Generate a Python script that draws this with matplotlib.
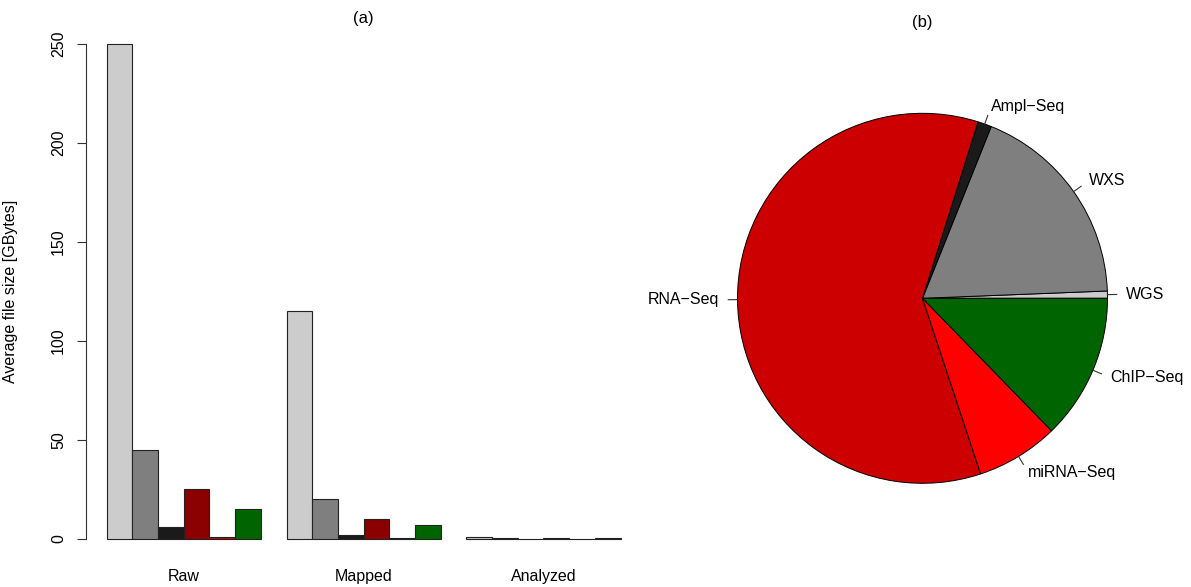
import matplotlib
matplotlib.use("Agg")
import matplotlib.pyplot as plt
import numpy as np

plt.rcParams['font.family'] = ['Liberation Sans', 'DejaVu Sans']
plt.rcParams['font.size'] = 11.5

# data
stages = ["Raw", "Mapped", "Analyzed"]
assays = ["WGS", "WXS", "Ampl\u2212Seq", "RNA\u2212Seq", "miRNA\u2212Seq", "ChIP\u2212Seq"]
raw_gb = [250, 45, 6, 25, 0.9, 15]
mapped_gb = [115, 20, 2, 10, 0.6, 7]
analyzed_gb = [0.9, 0.3, 0.05, 0.3, 0.05, 0.3]
bar_colors = ["#CCCCCC", "#7F7F7F", "#1A1A1A", "#8B0000", "#CC0000", "#006400"]

share_pct = [0.63, 18.3, 1.2, 59.9, 7.2, 12.7]
pie_colors = ["#CCCCCC", "#7F7F7F", "#1A1A1A", "#CC0000", "#FF0000", "#006400"]

W, H = 1191, 587
fig = plt.figure(figsize=(W / 100, H / 100), dpi=100)

# ---- (a) bar chart, R barplot(beside=TRUE) style ----
ax = fig.add_axes([86.1 / W, (H - 558.8) / H, 555 / W, 534.9 / H])
groups = [raw_gb, mapped_gb, analyzed_gb]
n = len(assays)
centers = []
for g, vals in enumerate(groups):
    left = 1 + g * (n + 1)
    x = left + np.arange(n)
    ax.bar(x, vals, width=1, align='edge', color=bar_colors,
           edgecolor='#222222', linewidth=0.8)
    centers.append(left + n / 2)

ax.set_xlim(0.2, 21.8)
ax.set_ylim(-10, 260)
for s in ['top', 'right', 'bottom']:
    ax.spines[s].set_visible(False)
ax.spines['left'].set_bounds(0, 250)
ax.spines['left'].set_color('#333333')
ax.spines['left'].set_linewidth(0.8)
ax.set_yticks([0, 50, 100, 150, 200, 250])
ax.tick_params(axis='y', length=6.5, width=0.8, color='#333333', pad=8)
for lab in ax.get_yticklabels():
    lab.set_rotation(90)
    lab.set_va('center')
ax.set_xticks(centers)
ax.set_xticklabels(stages)
ax.tick_params(axis='x', length=0, pad=7)
ax.set_ylabel("Average file size [GBytes]")
ax.yaxis.set_label_coords(-0.1225, 0.5)
fig.text(363.6 / W, 1 - 18 / H, "(a)", ha='center', va='center', fontsize=12)

# ---- (b) pie chart ----
R_PX = 185
cx, cy = 922.5, 298.3
half = 1.25 * R_PX
pax = fig.add_axes([(cx - half) / W, (H - cy - half) / H, 2 * half / W, 2 * half / H])
wedges, _ = pax.pie(share_pct, colors=pie_colors, startangle=0, counterclock=True,
                    radius=1, wedgeprops=dict(edgecolor='black', linewidth=0.7))
for w, name in zip(wedges, assays):
    mid = np.deg2rad((w.theta1 + w.theta2) / 2)
    c, s = np.cos(mid), np.sin(mid)
    pax.plot([c, 1.05 * c], [s, 1.05 * s], color='#333333', lw=0.8)
    pax.text(1.1 * c, 1.1 * s, name, ha='left' if c >= 0 else 'right', va='center')
pax.set_xlim(-1.25, 1.25)
pax.set_ylim(-1.25, 1.25)
pax.set_aspect('equal')
pax.axis('off')
fig.text(cx / W, 1 - 22 / H, "(b)", ha='center', va='center', fontsize=12)

fig.savefig("out.png", dpi=100)
